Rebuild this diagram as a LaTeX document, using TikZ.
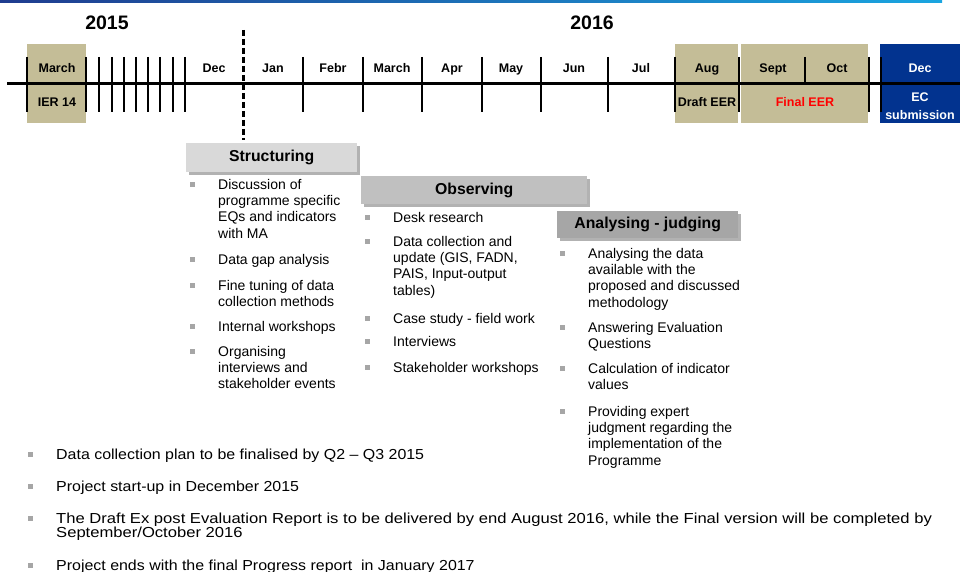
\documentclass[tikz,border=0pt]{standalone}
\usepackage{fontspec}
\setmainfont{Liberation Sans}
\newfontfamily\widefont[FakeStretch=1.1]{Liberation Sans}
\newfontfamily\widerfont[FakeStretch=1.145]{Liberation Sans}
\usetikzlibrary{shadows}
\definecolor{tanbg}{HTML}{C4BD97}
\definecolor{decblue}{HTML}{02338F}
\definecolor{bulgray}{HTML}{A6A6A6}
\definecolor{hdrA}{HTML}{D9D9D9}
\definecolor{hdrB}{HTML}{C0C0C0}
\definecolor{hdrC}{HTML}{A6A6A6}
\definecolor{lineL}{HTML}{1F3C8F}
\definecolor{lineR}{HTML}{1AA5E0}
% name, x of text, y of first baseline, text, font
\newcommand\bitem[5]{%
  \node[bul] (#1b) at (#2-26,#3-4.2) {};
  \node[itm, font=#5] (#1) at (#2,#3-11) {\rule{0pt}{11pt}#4};}
\newcommand\lfnt{\fontsize{14}{16.3}\selectfont}
\newcommand\bfnt{\widefont\fontsize{14.5}{14}\selectfont}
\newcommand\bbfnt{\widerfont\fontsize{14.5}{14}\selectfont}
\begin{document}
\begin{tikzpicture}[x=1pt,y=-1pt,
  tick/.style={line width=2.4pt},
  monthlbl/.style={font=\fontsize{12.5}{14}\selectfont\bfseries, inner sep=0, anchor=base},
  yearlbl/.style={font=\fontsize{19.5}{22}\selectfont\bfseries, inner sep=0},
  mbox/.style={draw=none, inner sep=0, anchor=north west, minimum height=79pt},
  hdr/.style={draw=none, inner sep=0, anchor=north west, font=\fontsize{15.8}{18}\selectfont\bfseries,
    drop shadow={shadow xshift=2.5pt, shadow yshift=-2.5pt, fill=black, opacity=0.3}},
  bul/.style={fill=bulgray, minimum size=5pt, inner sep=0},
  itm/.style={anchor=north west, inner sep=0, align=left},
]
\useasboundingbox (0,0) rectangle (960,572);
% top line
\shade[left color=lineL, right color=lineR] (0,0) rectangle (942,2.5);
% years
\node[yearlbl] (y15) at (107,23) {2015};
\node[yearlbl] (y16) at (592,23) {2016};
% boxes
\node[mbox, fill=tanbg, minimum width=59pt] (bMarch) at (27,44) {};
\node[mbox, fill=tanbg, minimum width=63pt] (bAug) at (675,44) {};
\node[mbox, fill=tanbg, minimum width=127pt] (bSO) at (741,44) {};
\node[mbox, fill=decblue, minimum width=80pt] (bDec) at (880,44) {};
% axis
\draw[line width=3pt] (7,84) -- (960,84);
\foreach \x in {27,86,99,112,124,136,148,160,173,185,303,363,422,482,541,608,675,739,869,881}
  \draw[tick] (\x,57) -- (\x,112);
\draw[tick] (805,57) -- (805,84);
\draw[line width=3pt, dash pattern=on 6pt off 3pt] (243,30) -- (243,140);
% month labels
\node[monthlbl] (mMar15) at (57,72.5) {March};
\node[monthlbl] (mDec15) at (214,72.5) {Dec};
\node[monthlbl] (mJan) at (273,72.5) {Jan};
\node[monthlbl] (mFeb) at (333,72.5) {Febr};
\node[monthlbl] (mMar) at (392,72.5) {March};
\node[monthlbl] (mApr) at (452,72.5) {Apr};
\node[monthlbl] (mMay) at (511,72.5) {May};
\node[monthlbl] (mJun) at (574,72.5) {Jun};
\node[monthlbl] (mJul) at (641,72.5) {Jul};
\node[monthlbl] (mAug) at (707,72.5) {Aug};
\node[monthlbl] (mSep) at (773,72.5) {Sept};
\node[monthlbl] (mOct) at (837,72.5) {Oct};
\node[monthlbl, text=white] (mDec16) at (920,72.5) {Dec};
\node[monthlbl] (ier) at (57,106.5) {IER 14};
\node[monthlbl] (draft) at (707,106.5) {Draft EER};
\node[monthlbl, text=red] (final) at (805,106.5) {Final EER};
\node[monthlbl, text=white, align=center, font=\fontsize{12.5}{18}\selectfont\bfseries] (ecsub) at (920,119.5) {EC\\submission};
% headers
\node[hdr, fill=hdrA, minimum width=171pt, minimum height=29pt] (hS) at (186,143) {Structuring};
\node[hdr, fill=hdrB, minimum width=226pt, minimum height=28pt] (hO) at (361,176) {Observing};
\node[hdr, fill=hdrC, minimum width=181pt, minimum height=27pt] (hA) at (557,211) {Analysing - judging};
% Structuring list
\bitem{s1}{218}{189}{Discussion of\\programme specific\\EQs and indicators\\with MA}{\lfnt}
\bitem{s2}{218}{264}{Data gap analysis}{\lfnt}
\bitem{s3}{218}{290}{Fine tuning of data\\collection methods}{\lfnt}
\bitem{s4}{218}{331}{Internal workshops}{\lfnt}
\bitem{s5}{218}{356}{Organising\\interviews and\\stakeholder events}{\lfnt}
% Observing list
\bitem{o1}{393}{222}{Desk research}{\lfnt}
\bitem{o2}{393}{246}{Data collection and\\update (GIS, FADN,\\PAIS, Input-output\\tables)}{\lfnt}
\bitem{o3}{393}{323}{Case study - field work}{\lfnt}
\bitem{o4}{393}{346}{Interviews}{\lfnt}
\bitem{o5}{393}{372}{Stakeholder workshops}{\lfnt}
% Analysing list
\bitem{a1}{588}{258}{Analysing the data\\available with the\\proposed and discussed\\methodology}{\lfnt}
\bitem{a2}{588}{332}{Answering Evaluation\\Questions}{\lfnt}
\bitem{a3}{588}{373}{Calculation of indicator\\values}{\lfnt}
\bitem{a4}{588}{416}{Providing expert\\judgment regarding the\\implementation of the\\Programme}{\lfnt}
% bottom list
\bitem{b1}{56}{459}{Data collection plan to be finalised by Q2 – Q3 2015}{\bfnt}
\bitem{b2}{56}{491}{Project start-up in December 2015}{\bfnt}
\bitem{b3}{56}{523}{The Draft Ex post Evaluation Report is to be delivered by end August 2016, while the Final version will be completed by\\September/October 2016}{\bbfnt}
\bitem{b4}{56}{570}{Project ends with the final Progress report\ \ in January 2017}{\bfnt}
\end{tikzpicture}
\end{document}
